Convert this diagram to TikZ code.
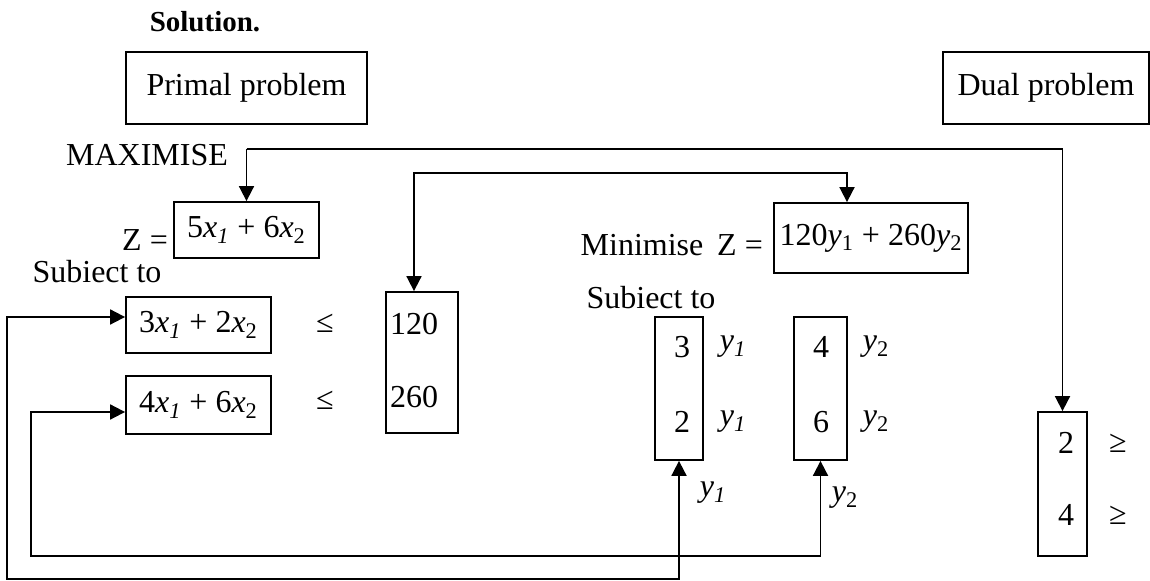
\documentclass[tikz,border=0pt]{standalone}
\usepackage{fontspec}
\setmainfont{Liberation Serif}
\usetikzlibrary{arrows.meta}
\newcommand{\vx}[2]{\textit{#1}\textsubscript{#2}}
\begin{document}
\begin{tikzpicture}[x=0.5pt,y=-0.5pt,
  every node/.style={font=\fontsize{16}{19}\selectfont, inner sep=0pt},
  box/.style={draw, line width=0.9pt, anchor=center},
  conn/.style={line width=0.9pt},
  arr/.style={conn, -{Triangle[length=7.5pt,width=7.5pt]}},
  arrboth/.style={conn, {Triangle[length=7.5pt,width=7.5pt]}-{Triangle[length=7.5pt,width=7.5pt]}}]
\useasboundingbox (0,0) rectangle (1150,581);

% headers
\node (sol) at (205,22) {\fontsize{14.5}{17}\selectfont\bfseries Solution.};
\node[box, minimum width=120.5pt, minimum height=36pt] (primal) at (246.5,88) {Primal problem};
\node[box, minimum width=103pt, minimum height=36pt] (dual) at (1046,88) {Dual problem};

% primal
\node (maxi) at (147,155) {MAXIMISE};
\node[box, minimum width=72.5pt, minimum height=28pt] (zbox) at (246.5,230) {5\vx{x}{\textit{1}} + 6\vx{x}{2}};
\node (zeq) at (145,240) {Z =};
\node (subj1) at (97,272) {Subiect to};
\node[box, minimum width=72.5pt, minimum height=28pt] (c1) at (198.5,325) {3\vx{x}{\textit{1}} + 2\vx{x}{2}};
\node[box, minimum width=72.5pt, minimum height=29pt] (c2) at (198.5,405) {4\vx{x}{\textit{1}} + 6\vx{x}{2}};
\node (le1) at (325,323) {≤};
\node (le2) at (325,400) {≤};
\node[box, minimum width=36pt, minimum height=70.5pt] (rhs) at (422,362.5) {};
\node (r120) at (414,324) {120};
\node (r260) at (414,397) {260};

% dual
\node (mini) at (642,245) {Minimise};
\node (zeq2) at (740,245) {Z =};
\node[box, minimum width=97pt, minimum height=35pt] (dz) at (871,238) {120\vx{y}{1} + 260\vx{y}{2}};
\node (subj2) at (651,298) {Subiect to};
\node[box, minimum width=24pt, minimum height=71.5pt] (b1) at (679,388.5) {};
\node (b1a) at (682,347) {3};
\node (b1b) at (682,422) {2};
\node (y1a) at (733,347) {\vx{y}{\textit{1}}};
\node (y1b) at (733,422) {\vx{y}{\textit{1}}};
\node[box, minimum width=26.5pt, minimum height=71.5pt] (b2) at (820.5,388.5) {};
\node (b2a) at (821,347) {4};
\node (b2b) at (821,422) {6};
\node (y2a) at (876,347) {\vx{y}{2}};
\node (y2b) at (876,422) {\vx{y}{2}};
\node[box, minimum width=24.5pt, minimum height=72pt] (rbox) at (1062.5,484) {};
\node (rb2) at (1066,443) {2};
\node (rb4) at (1066,515) {4};
\node (ge1) at (1118,443) {≥};
\node (ge2) at (1118,515) {≥};
\node (y1c) at (713,493) {\vx{y}{\textit{1}}};
\node (y2c) at (845,498) {\vx{y}{2}};

% connectors
\coordinate (m1) at (246.5,149);
\draw[arr] (m1) -- (zbox.north);
\draw[arr] (m1) -| (rbox.north);

\coordinate (t1) at (414,173);
\coordinate (t2) at (847,173);
\draw[arrboth] (t1 |- rhs.north) -- (t1) -- (t2) -- (t2 |- dz.north);

\coordinate (o1) at (7,579);
\draw[arrboth] ([yshift=4pt]c1.west) -| (o1) -| (b1.south);

\coordinate (i1) at (31,556);
\draw[arrboth] ([yshift=-3.5pt]c2.west) -| (i1) -| (b2.south);
\end{tikzpicture}
\end{document}
